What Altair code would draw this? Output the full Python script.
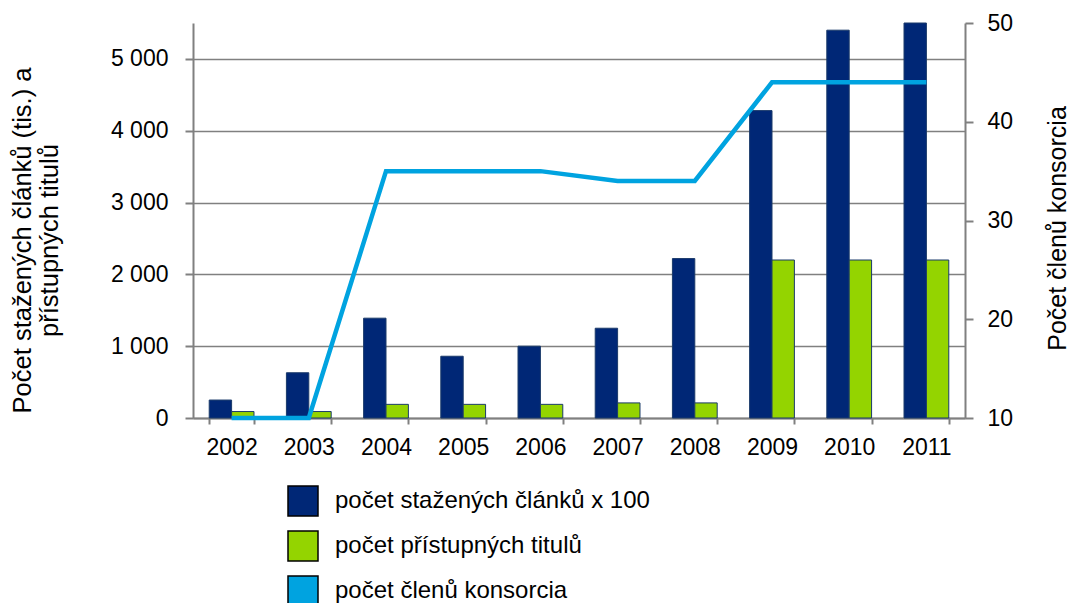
import altair as alt
import pandas as pd

years = ["2002", "2003", "2004", "2005", "2006", "2007", "2008", "2009", "2010", "2011"]
downloads = [250, 630, 1390, 860, 1000, 1250, 2220, 4280, 5400, 5500]
titles = [90, 90, 190, 190, 190, 210, 210, 2200, 2200, 2200]
members = [10, 10, 35, 35, 35, 34, 34, 44, 44, 44]
series_names = ["počet stažených článků x 100", "počet přístupných titulů", "počet členů konsorcia"]
colors = ["#002776", "#94D400", "#00A3E0"]
left_ticks = [0, 1000, 2000, 3000, 4000, 5000]
right_ticks = [10, 20, 30, 40, 50]

FONT = "Liberation Sans"
GRAY = "#808080"

bars_df = pd.DataFrame({
    "year": years * 2,
    "series": [series_names[0]] * len(years) + [series_names[1]] * len(years),
    "value": downloads + titles,
})
line_df = pd.DataFrame({"year": years, "members": members})

x_enc = alt.X(
    "year:N", sort=years,
    scale=alt.Scale(paddingInner=0.42, paddingOuter=0.21),
    axis=alt.Axis(title=None, tickBand="extent", labelAngle=0, labelFont=FONT,
                  labelFontSize=23, labelColor="black", labelPadding=12,
                  tickSize=6, tickColor=GRAY, tickWidth=2, domainColor=GRAY,
                  domainWidth=2, grid=False),
)

bars = alt.Chart(bars_df).mark_bar(stroke="#1a3a6a", strokeWidth=1).encode(
    x=x_enc,
    xOffset=alt.XOffset("series:N", sort=series_names[:2],
                        scale=alt.Scale(domain=series_names[:2], paddingInner=0, paddingOuter=0)),
    y=alt.Y("value:Q", scale=alt.Scale(domain=[0, 5500], nice=False, zero=True),
            axis=alt.Axis(
                orient="left", values=left_ticks,
                labelExpr="replace(format(datum.value, ',d'), ',', ' ')",
                title=["Počet stažených článků (tis.) a", "přístupných titulů"],
                titleFont=FONT, titleFontSize=25.5, titleFontWeight="normal",
                titleColor="black", titleAngle=270, titleAlign="center",
                titleBaseline="alphabetic", titleX=-163, titleY=217,
                titleLineHeight=27,
                labelFont=FONT, labelFontSize=23, labelColor="black", labelPadding=17,
                tickSize=8, tickColor=GRAY, tickWidth=2, domainColor=GRAY, domainWidth=2,
                grid=True, gridColor=GRAY, gridWidth=1.5)),
    color=alt.Color("series:N",
                    scale=alt.Scale(domain=series_names, range=colors),
                    legend=alt.Legend(
                        orient="none", legendX=94, legendY=462, title=None,
                        symbolType="square", symbolSize=900,
                        symbolStrokeColor="black", symbolStrokeWidth=1.5,
                        symbolOpacity=1,
                        labelFont=FONT, labelFontSize=24, labelColor="black",
                        labelOffset=16, rowPadding=9, labelLimit=600)),
)

line = alt.Chart(line_df).mark_line(color=colors[2], strokeWidth=4.5).encode(
    x=alt.X("year:N", sort=years),
    y=alt.Y("members:Q", scale=alt.Scale(domain=[10, 50], nice=False, zero=False),
            axis=alt.Axis(
                orient="right", values=right_ticks,
                title="Počet členů konsorcia",
                titleFont=FONT, titleFontSize=25, titleFontWeight="normal",
                titleColor="black", titleAngle=270, titleAlign="center",
                titleBaseline="alphabetic", titleX=100, titleY=205,
                labelFont=FONT, labelFontSize=23, labelColor="black", labelPadding=14,
                tickSize=8, tickColor=GRAY, tickWidth=2, domainColor=GRAY, domainWidth=2,
                grid=False)),
)

chart = alt.layer(bars, line).resolve_scale(y="independent").properties(
    width=772, height=395,
    autosize=alt.AutoSizeParams(type="none"),
    padding={"left": 185, "top": 15, "right": 105, "bottom": 190},
).configure_view(stroke=None)

chart.save("out.html", embed_options={"renderer": "svg", "actions": False})
